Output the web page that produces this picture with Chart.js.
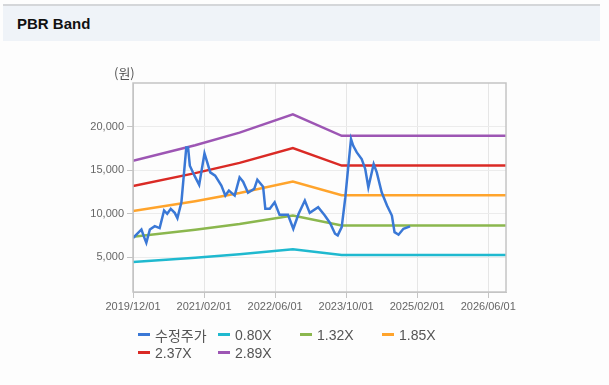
<!DOCTYPE html>
<html>
<head>
<meta charset="utf-8">
<script src="https://cdn.jsdelivr.net/npm/chart.js@4.4.1/dist/chart.umd.min.js"></script>
<style>
    body { margin: 0; width: 609px; height: 385px; background: #fdfdfd; font-family: "Liberation Sans", Arial, sans-serif; position: relative; overflow: hidden; }
    .header { position: absolute; left: 3px; top: 4px; width: 597px; height: 35px; background: #eff3f8; border-top: 2px solid #d4d6d9; }
    .header span { position: absolute; left: 14px; top: 9px; font-size: 15px; font-weight: bold; color: #111; }
    #chart-wrap { position: absolute; left: 0; top: 0; width: 609px; height: 385px; }
    .unit { position: absolute; left: 114px; top: 63px; font-size: 13px; color: #555; font-family: "Noto Sans CJK KR", sans-serif; }
    .legend { position: absolute; left: 138px; top: 326px; display: grid; grid-template-columns: 80px 82px 82px 82px; row-gap: 1px; font-size: 14px; color: #555; }
    .legend div { display: flex; align-items: center; height: 17px; white-space: nowrap; }
    .legend i { display: inline-block; width: 12px; height: 3px; margin-right: 5px; }
    .legend .kr { font-family: "Noto Sans CJK KR", sans-serif; font-size: 14px; }
</style>
</head>
<body>
<div class="header"><span>PBR Band</span></div>
<div id="chart-wrap"><canvas id="pbr-chart"></canvas></div>
<div class="unit">(원)</div>
<div class="legend" id="pbr-legend"></div>
<script>
// =============================
// PBR BAND DATA (months since 2019/12)
// =============================
const xTickLabels = ['2019/12/01', '2021/02/01', '2022/06/01', '2023/10/01', '2025/02/01', '2026/06/01'];
const yTickValues = [5000, 10000, 15000, 20000];

const priceMonths = [0, 1.9, 2.5, 3, 3.8, 4.9, 6, 7, 7.7, 8.5, 9.4, 10, 10.9, 11.5, 12, 12.4, 12.8, 13.9, 14.9, 16.1, 16.6, 17.4, 18.5, 19.9, 20.8, 21.6, 22.9, 24, 24.8, 25.9, 27.3, 28, 29.3, 29.8, 30.8, 31.9, 33, 34.9, 36.1, 37.3, 38.7, 39.8, 41.7, 43.2, 44.4, 45.5, 46.1, 47, 47.8, 48.5, 49.1, 49.6, 50.4, 51.5, 52.3, 53, 53.6, 54.2, 54.9, 56, 57.2, 58.3, 58.9, 59.8, 60.9, 62.4];
const priceValues = [7190, 8180, 7300, 6660, 8180, 8560, 8330, 10360, 9980, 10550, 10090, 9480, 11310, 14740, 17600, 17600, 15500, 14300, 13300, 16910, 16080, 14740, 14360, 13220, 12070, 12640, 12070, 14170, 13670, 12400, 12840, 13900, 13100, 10550, 10550, 11310, 9860, 9860, 8260, 9980, 11500, 10090, 10730, 9780, 8900, 7690, 7500, 8450, 11800, 15500, 18560, 17790, 17030, 16270, 15130, 13020, 14360, 15700, 14740, 12450, 10930, 9780, 7870, 7580, 8260, 8530];

const bandMonths = [0, 14, 24, 36, 47, 84];
const band080 = [4450, 4940, 5340, 5920, 5240, 5240];
const band132 = [7340, 8160, 8820, 9770, 8650, 8650];
const band185 = [10290, 11430, 12360, 13690, 12120, 12120];
const band237 = [13180, 14650, 15830, 17540, 15520, 15520];
const band289 = [16070, 17860, 19300, 21390, 18930, 18930];

const seriesNames = ['수정주가', '0.80X', '1.32X', '1.85X', '2.37X', '2.89X'];
const seriesColors = ['#3a78d6', '#1fb9cf', '#8bb74e', '#ffa42c', '#da2a25', '#9d56b4'];

function toPoints(xs, ys) {
    return xs.map((x, i) => ({ x: x, y: ys[i] }));
}

const bandSeries = [band080, band132, band185, band237, band289];
const datasets = [];
bandSeries.forEach((vals, i) => {
    datasets.push({
        label: seriesNames[i + 1],
        data: toPoints(bandMonths, vals),
        borderColor: seriesColors[i + 1],
        borderWidth: 2.5,
        pointRadius: 0,
        tension: 0,
        order: 2
    });
});
datasets.push({
    label: seriesNames[0],
    data: toPoints(priceMonths, priceValues),
    borderColor: seriesColors[0],
    borderWidth: 2.5,
    pointRadius: 0,
    tension: 0,
    order: 1
});

// box around the plot
const plotBorder = {
    id: 'plotBorder',
    afterDraw(chart) {
        const { ctx, chartArea: a } = chart;
        ctx.save();
        ctx.strokeStyle = '#c4c4c4';
        ctx.lineWidth = 1.5;
        ctx.strokeRect(a.left, a.top, a.right - a.left, a.bottom - a.top);
        ctx.restore();
    }
};

new Chart(document.getElementById('pbr-chart').getContext('2d'), {
    type: 'line',
    data: { datasets: datasets },
    options: {
        responsive: true,
        maintainAspectRatio: false,
        animation: false,
        layout: { padding: { left: 90, right: 103, top: 83, bottom: 73 } },
        scales: {
            x: {
                type: 'linear',
                min: 0,
                max: 84,
                afterBuildTicks: (s) => { s.ticks = [0, 16, 32, 48, 64, 80].map(v => ({ value: v })); },
                afterFit: (s) => { s.height = 20; },
                grid: { color: '#e6e6e6', tickLength: 6, tickColor: '#c4c4c4' },
                border: { color: '#c4c4c4' },
                ticks: {
                    color: '#666',
                    font: { family: 'Liberation Sans', size: 11 },
                    padding: 2,
                    maxRotation: 0,
                    autoSkip: false,
                    callback: (v) => xTickLabels[Math.round(v / 16)]
                }
            },
            y: {
                min: 1000,
                max: 25000,
                afterBuildTicks: (s) => { s.ticks = yTickValues.map(v => ({ value: v })); },
                afterFit: (s) => { s.width = 43; },
                grid: { color: '#ececec', tickLength: 6, tickColor: '#c4c4c4' },
                border: { color: '#c4c4c4' },
                ticks: {
                    color: '#666',
                    font: { family: 'Liberation Sans', size: 11 },
                    padding: 3,
                    callback: (v) => v.toLocaleString('en-US')
                }
            }
        },
        plugins: {
            legend: { display: false },
            tooltip: { enabled: false }
        }
    },
    plugins: [plotBorder]
});

// html legend laid out in fixed columns
const legendEl = document.getElementById('pbr-legend');
seriesNames.forEach((name, i) => {
    const cls = i === 0 ? ' class="kr"' : '';
    legendEl.innerHTML += `<div><i style="background:${seriesColors[i]}"></i><span${cls}>${name}</span></div>`;
});
</script>
</body>
</html>
